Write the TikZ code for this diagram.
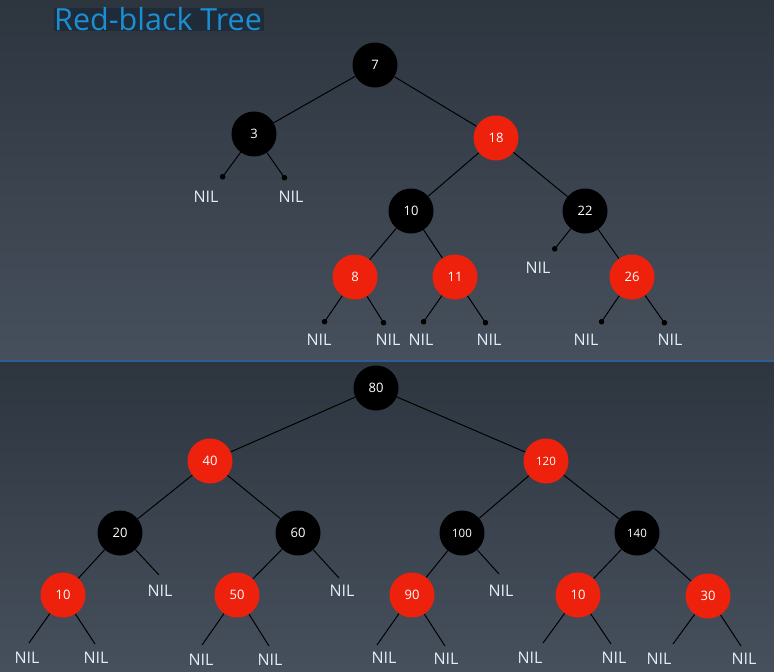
\documentclass[tikz,border=0pt]{standalone}
\usepackage{fontspec}
\setmainfont{Open Sans}
\usepackage{xcolor}
\usepackage{tikz}
\usetikzlibrary{arrows.meta}
\definecolor{rbred}{RGB}{238,33,12}
\definecolor{nilblue}{RGB}{228,238,248}
\definecolor{titleblue}{RGB}{27,143,209}
\definecolor{titlebg}{RGB}{31,43,56}
\definecolor{paneltop}{RGB}{45,53,63}
\definecolor{panelbot}{RGB}{70,80,92}
\definecolor{sepblue}{RGB}{46,92,150}
\tikzstyle{edge}    = [line width=1pt, black]
\tikzstyle{niledge} = [edge, -{Circle[length=5.5pt]}]

\begin{document}
\begin{tikzpicture}[
    x=1pt, y=-1pt,
    blk/.style={circle, fill=black, minimum size=45pt, inner sep=0pt,
      text=white, font=\fontsize{13}{13}\selectfont},
    rd/.style={blk, fill=rbred},
    wide/.style={font=\fontsize{11.5}{11.5}\selectfont},
    nil/.style={inner sep=0pt, text=nilblue, font=\fontsize{16}{16}\selectfont},
  ]
  \useasboundingbox (0,0) rectangle (774,672);
  % panels
  \shade[top color=paneltop, bottom color=panelbot] (0,0) rectangle (774,361);
  \shade[top color=paneltop, bottom color=panelbot] (0,361) rectangle (774,672);
  \draw[sepblue, line width=2pt] (0,361) -- (774,361);
  \fill[titlebg] (54,8) rectangle (264,31);
  \node[anchor=base west, inner sep=0pt, text=titleblue,
    font=\fontsize{30.5}{30.5}\selectfont] (title) at (54,30) {Red-black Tree};

  % first tree
  \node[blk] (n7) at (375,65) {7};
  \node[blk] (n3) at (254,134) {3};
  \node[rd] (n18) at (496,138) {18};
  \node[blk] (n10) at (411,211) {10};
  \node[blk] (n22) at (585,211) {22};
  \node[rd] (n8) at (355,277) {8};
  \node[rd] (n11) at (455,277) {11};
  \node[rd] (n26) at (632,277) {26};

  \coordinate (d3a) at (221,179);
  \coordinate (d3b) at (286,180);
  \coordinate (d22a) at (553,251);
  \coordinate (d8a) at (323,324);
  \coordinate (d8b) at (385,325);
  \coordinate (d11a) at (422,324);
  \coordinate (d11b) at (487,325);
  \coordinate (d26a) at (600,324);
  \coordinate (d26b) at (666,325);

  \node[nil] (l3a) at (206,197) {NIL};
  \node[nil] (l3b) at (291,197) {NIL};
  \node[nil] (l22a) at (538,268) {NIL};
  \node[nil] (l8a) at (319,340) {NIL};
  \node[nil] (l8b) at (388,340) {NIL};
  \node[nil] (l11a) at (421,340) {NIL};
  \node[nil] (l11b) at (489,340) {NIL};
  \node[nil] (l26a) at (586,340) {NIL};
  \node[nil] (l26b) at (670,340) {NIL};

  \draw[edge] (n7) -- (n3);
  \draw[edge] (n7) -- (n18);
  \draw[edge] (n18) -- (n10);
  \draw[edge] (n18) -- (n22);
  \draw[edge] (n10) -- (n8);
  \draw[edge] (n10) -- (n11);
  \draw[edge] (n22) -- (n26);
  \draw[niledge] (n3) -- (d3a);
  \draw[niledge] (n3) -- (d3b);
  \draw[niledge] (n22) -- (d22a);
  \draw[niledge] (n8) -- (d8a);
  \draw[niledge] (n8) -- (d8b);
  \draw[niledge] (n11) -- (d11a);
  \draw[niledge] (n11) -- (d11b);
  \draw[niledge] (n26) -- (d26a);
  \draw[niledge] (n26) -- (d26b);

  % second tree
  \node[blk] (m80) at (376,388) {80};
  \node[rd] (m40) at (210,461) {40};
  \node[rd, wide] (m120) at (546,461) {120};
  \node[blk] (m20) at (120,533) {20};
  \node[blk] (m60) at (298,533) {60};
  \node[blk, wide] (m100) at (462,533) {100};
  \node[blk, wide] (m140) at (637,533) {140};
  \node[rd] (m10) at (63,595) {10};
  \node[rd] (m50) at (237,595) {50};
  \node[rd] (m90) at (412,595) {90};
  \node[rd] (m10b) at (578,595) {10};
  \node[rd] (m30) at (708,596) {30};

  \coordinate (e20) at (159,575);
  \coordinate (e60) at (339,578);
  \coordinate (e100) at (499,574);
  \coordinate (e10a) at (29,643);
  \coordinate (e10b) at (95,644);
  \coordinate (e50a) at (202,645);
  \coordinate (e50b) at (269,646);
  \coordinate (e90a) at (377,645);
  \coordinate (e90b) at (445,646);
  \coordinate (e10ba) at (543,643);
  \coordinate (e10bb) at (611,644);
  \coordinate (e30a) at (673,644);
  \coordinate (e30b) at (741,646);

  \node[nil] (k20) at (160,591) {NIL};
  \node[nil] (k60) at (342,591) {NIL};
  \node[nil] (k100) at (501,591) {NIL};
  \node[nil] (k10a) at (27,658) {NIL};
  \node[nil] (k10b) at (96,658) {NIL};
  \node[nil] (k50a) at (201,660) {NIL};
  \node[nil] (k50b) at (270,660) {NIL};
  \node[nil] (k90a) at (384,658) {NIL};
  \node[nil] (k90b) at (446,659) {NIL};
  \node[nil] (k10ba) at (530,658) {NIL};
  \node[nil] (k10bb) at (614,658) {NIL};
  \node[nil] (k30a) at (659,659) {NIL};
  \node[nil] (k30b) at (744,659) {NIL};

  \draw[edge] (m80) -- (m40);
  \draw[edge] (m80) -- (m120);
  \draw[edge] (m40) -- (m20);
  \draw[edge] (m40) -- (m60);
  \draw[edge] (m120) -- (m100);
  \draw[edge] (m120) -- (m140);
  \draw[edge] (m20) -- (m10);
  \draw[edge] (m60) -- (m50);
  \draw[edge] (m100) -- (m90);
  \draw[edge] (m140) -- (m10b);
  \draw[edge] (m140) -- (m30);
  \draw[edge] (m20) -- (e20);
  \draw[edge] (m60) -- (e60);
  \draw[edge] (m100) -- (e100);
  \draw[edge] (m10) -- (e10a);
  \draw[edge] (m10) -- (e10b);
  \draw[edge] (m50) -- (e50a);
  \draw[edge] (m50) -- (e50b);
  \draw[edge] (m90) -- (e90a);
  \draw[edge] (m90) -- (e90b);
  \draw[edge] (m10b) -- (e10ba);
  \draw[edge] (m10b) -- (e10bb);
  \draw[edge] (m30) -- (e30a);
  \draw[edge] (m30) -- (e30b);
\end{tikzpicture}
\end{document}
